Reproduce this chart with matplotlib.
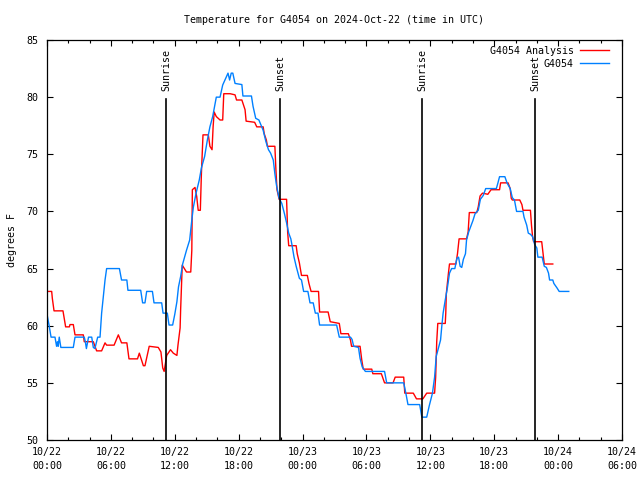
import matplotlib
matplotlib.use('Agg')
import matplotlib.pyplot as plt

# hours since 2024-10-22 00:00 UTC
red_h = [0.0, 0.44, 0.5, 0.66, 1.5, 1.62, 1.75, 2.1, 2.16, 2.47, 2.63, 3.41, 3.5, 4.35, 4.66, 5.13,
         5.45, 5.6, 6.3, 6.7, 7.0, 7.5, 7.7, 8.5, 8.67, 9.05, 9.2, 9.6, 10.45, 10.7, 10.87, 11.0,
         11.24, 11.6, 11.86, 12.2, 12.3, 12.5, 12.55, 12.7, 13.1, 13.5, 13.6, 13.65, 13.9, 14.06,
         14.2, 14.4, 14.5, 14.6, 14.65, 15.15, 15.3, 15.5, 15.6, 15.7, 15.9, 16.25, 16.5, 16.6,
         17.2, 17.66, 17.8, 18.3, 18.6, 18.7, 19.5, 19.7, 20.3, 20.4, 20.6, 20.7, 21.4, 21.5, 21.6,
         21.8, 22.5, 22.6, 22.7, 23.4, 23.5, 23.7, 23.9, 24.45, 24.6, 24.8, 25.5, 25.6, 26.4, 26.6,
         27.45, 27.6, 28.3, 28.5, 28.6, 29.4, 29.56, 29.7, 30.5, 30.6, 31.4, 31.6, 31.7, 32.5, 32.7,
         33.5, 33.6, 34.4, 34.7, 35.3, 35.66, 36.4, 36.5, 36.6, 36.7, 37.4, 37.45, 37.5, 37.7, 37.8,
         38.4, 38.55, 38.7, 39.4, 39.55, 39.66, 40.36, 40.5, 40.67, 40.9, 41.4, 41.7, 42.5, 42.6,
         43.3, 43.5, 43.6, 43.7, 44.4, 44.6, 44.7, 45.4, 45.5, 45.6, 45.7, 46.46, 46.55, 46.7, 47.5]
red_t = [63.0, 63.0, 62.4, 61.3, 61.3, 60.6, 59.9, 59.9, 60.1, 60.1, 59.2, 59.2, 58.6, 58.6, 57.8, 57.8,
         58.5, 58.3, 58.3, 59.2, 58.5, 58.5, 57.1, 57.1, 57.6, 56.5, 56.5, 58.2, 58.1, 57.7, 56.3, 56.0,
         57.4, 57.9, 57.6, 57.4, 58.3, 59.8, 61.4, 65.3, 64.7, 64.7, 66.6, 71.9, 72.1, 71.3,
         70.1, 70.1, 73.3, 75.5, 76.7, 76.7, 75.7, 75.4, 77.4, 78.7, 78.3, 78.0, 78.0, 80.3,
         80.3, 80.2, 79.75, 79.75, 78.9, 77.9, 77.8, 77.4, 77.4, 76.8, 76.25, 75.7, 75.7, 73.6, 71.9,
         71.06, 71.06, 68.2, 67.0, 67.0, 66.3, 65.5, 64.4, 64.4, 63.7, 63.0, 63.0, 61.2, 61.2, 60.35,
         60.2, 59.3, 59.3, 58.75, 58.2, 58.2, 57.0, 56.2, 56.2, 55.8, 55.8, 55.25, 55.0, 55.0, 55.5,
         55.5, 54.1, 54.1, 53.6, 53.6, 54.1, 54.1, 55.5, 58.6, 60.2, 60.2, 61.1, 62.8, 64.6, 65.4,
         65.4, 66.3, 67.6, 67.6, 68.2, 69.9, 69.9, 70.4, 71.35, 71.6, 71.5, 71.9, 71.9, 72.5,
         72.5, 72.0, 71.15, 71.0, 71.0, 70.6, 70.1, 70.1, 68.8, 67.8, 67.35, 67.35, 66.6, 65.4, 65.4]

blue_h = [0.0, 0.19, 0.38, 0.75, 0.9, 0.98, 1.05, 1.15, 1.3, 2.47, 2.63, 3.5, 3.6, 3.7, 3.9, 4.2,
          4.35, 4.5, 4.76, 4.98, 5.13, 5.45, 5.6, 6.8, 7.0, 7.5, 7.6, 8.8, 8.98, 9.2, 9.36, 9.9,
          10.05, 10.77, 10.9, 11.3, 11.46, 11.8, 12.0, 12.2, 12.35, 12.55, 12.74, 13.1, 13.4, 13.6,
          13.75, 14.0, 14.3, 14.5, 14.8, 15.06, 15.3, 15.56, 15.9, 16.25, 16.5, 16.9, 17.0, 17.15,
          17.3, 17.45, 17.66, 18.3, 18.4, 19.2, 19.35, 19.6, 19.9, 20.3, 20.56, 20.8, 21.0, 21.25,
          21.4, 21.55, 21.8, 22.05, 22.3, 22.5, 22.7, 22.9, 23.0, 23.2, 23.4, 23.7, 23.9, 24.1,
          24.5, 24.7, 25.0, 25.2, 25.45, 25.6, 27.2, 27.45, 28.5, 28.65, 28.8, 29.25, 29.4, 29.6,
          29.9, 31.7, 31.9, 33.5, 33.7, 33.9, 35.0, 35.2, 35.66, 35.9, 36.2, 36.4, 36.55, 36.75,
          36.96, 37.07, 37.2, 37.4, 37.6, 37.8, 38.0, 38.3, 38.5, 38.65, 38.8, 38.95, 39.1, 39.3,
          39.4, 39.6, 39.8, 40.0, 40.2, 40.5, 40.7, 40.97, 41.2, 42.2, 42.35, 42.5, 43.0, 43.2,
          43.5, 43.7, 43.9, 44.1, 44.7, 44.8, 45.05, 45.2, 45.4, 45.6, 45.8, 46.0, 46.1, 46.5,
          46.7, 46.9, 47.1, 47.2, 47.5, 47.6, 47.9, 48.1, 49.0]
blue_t = [61.0, 60.06, 59.0, 59.0, 58.2, 58.6, 58.2, 59.0, 58.1, 58.1, 59.0, 59.0, 58.6, 58.0, 59.0, 59.0,
          58.1, 58.0, 59.0, 59.0, 61.1, 64.0, 65.0, 65.0, 64.0, 64.0, 63.1, 63.1, 62.0, 62.0, 63.0, 63.0,
          62.0, 62.0, 61.1, 61.1, 60.06, 60.06, 61.0, 62.1, 63.4, 64.3, 65.4, 66.6, 67.5, 69.25,
          70.4, 71.6, 72.75, 73.8, 74.8, 76.25, 77.4, 78.3, 80.0, 80.0, 81.06, 81.9, 82.1, 81.5,
          82.1, 82.1, 81.2, 81.1, 80.1, 80.1, 79.2, 78.15, 78.0, 77.1, 76.1, 75.4, 75.1, 74.5,
          73.3, 72.3, 71.15, 70.7, 69.8, 69.0, 68.1, 67.6, 67.1, 66.0, 65.2, 64.15, 64.0, 63.0,
          63.0, 62.0, 62.0, 61.1, 61.1, 60.06, 60.06, 59.0, 59.0, 58.8, 58.2, 58.1, 57.15, 56.4,
          56.0, 56.0, 55.0, 55.0, 54.1, 53.1, 53.1, 52.0, 52.0, 53.0, 54.1, 55.5, 57.3, 58.0,
          58.75, 59.9, 61.1, 62.25, 63.3, 64.6, 65.0, 65.0, 65.9, 66.0, 65.2, 65.1, 65.8, 66.3,
          67.5, 68.2, 68.7, 69.2, 69.8, 70.1, 71.06, 71.4, 72.0, 72.0, 72.5, 73.04, 73.04, 72.5,
          72.0, 71.2, 71.0, 70.0, 70.0, 69.5, 68.8, 68.1, 68.0, 67.8, 67.1, 66.8, 66.0, 66.0,
          65.2, 65.1, 64.6, 64.0, 64.0, 63.7, 63.3, 63.0, 63.0]

sun_h = [11.2, 21.88, 35.25, 45.85]
sun_lbl = ['Sunrise', 'Sunset', 'Sunrise', 'Sunset']

tick_h = [0, 6, 12, 18, 24, 30, 36, 42, 48, 54]
tick_lbl = ['10/22\n00:00', '10/22\n06:00', '10/22\n12:00', '10/22\n18:00', '10/23\n00:00',
            '10/23\n06:00', '10/23\n12:00', '10/23\n18:00', '10/24\n00:00', '10/24\n06:00']

plt.rcParams['font.family'] = 'DejaVu Sans Mono'
plt.rcParams['font.size'] = 7.2

fig = plt.figure(figsize=(6.4, 4.8), dpi=100)
ax = fig.add_axes([47 / 640, 40 / 480, 575 / 640, 400 / 480])

ax.plot(red_h, red_t, color='#ff0000', lw=1.0, label='G4054 Analysis')
ax.plot(blue_h, blue_t, color='#0080ff', lw=1.0, label='G4054')

for h, s in zip(sun_h, sun_lbl):
    ax.plot([h, h], [50, 79.8], color='black', lw=1.2)
    ax.text(h, 80.5, s, rotation=90, ha='center', va='bottom')

ax.set_xlim(0, 54)
ax.set_ylim(50, 85)
ax.set_xticks(tick_h)
ax.set_xticklabels(tick_lbl)
for lbl in ax.get_xticklabels():
    lbl.set_linespacing(1.45)
ax.set_xticks(range(0, 55, 2), minor=True)
ax.set_yticks(range(50, 86, 5))
ax.tick_params(direction='in', top=True, right=True, length=4, width=0.8, pad=5)
ax.tick_params(axis='y', pad=6)
ax.tick_params(which='minor', direction='in', top=True, length=2, width=0.8)
for sp in ax.spines.values():
    sp.set_linewidth(0.9)

ax.set_ylabel('degrees F', labelpad=7)
fig.text(334.5 / 640, 1 - 20 / 480, 'Temperature for G4054 on 2024-Oct-22 (time in UTC)',
         ha='center', va='center')

ax.legend(loc='upper right', bbox_to_anchor=(0.977, 0.985), markerfirst=False, frameon=False,
          handlelength=2.9, handletextpad=0.6, labelspacing=0.3, borderpad=0, borderaxespad=0)

fig.savefig('out.png', dpi=100)
